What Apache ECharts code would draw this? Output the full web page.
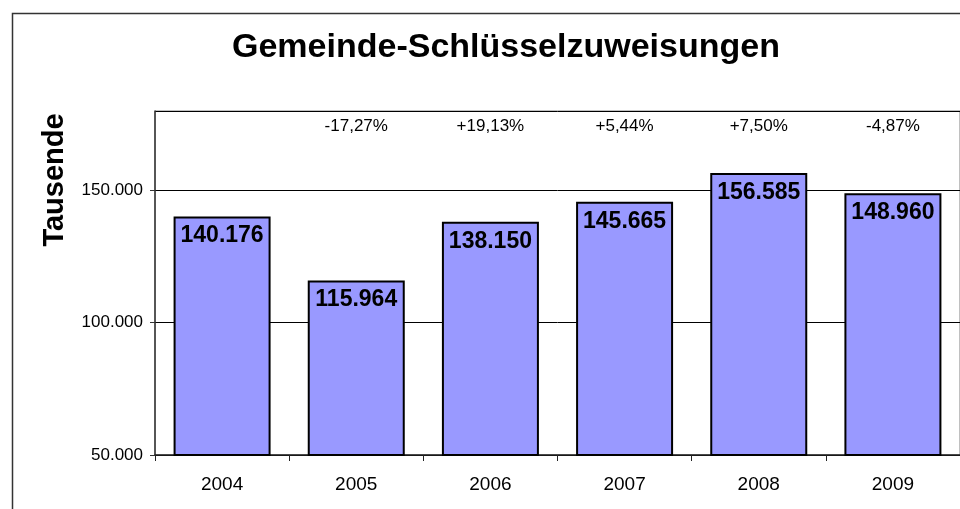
<!DOCTYPE html>
<html>
<head>
<meta charset="utf-8">
<title>Gemeinde-Schlüsselzuweisungen</title>
<script src="https://cdn.jsdelivr.net/npm/echarts@6/dist/echarts.min.js"></script>
<style>
  html, body { margin: 0; padding: 0; background: #fff; }
  #main { width: 960px; height: 509px; }
</style>
</head>
<body>
<div id="main"></div>
<script>
// Daten (Tausend Euro)
var years = ['2004', '2005', '2006', '2007', '2008', '2009']
var amounts = [140176, 115964, 138150, 145665, 156585, 148960]
// Veränderung zum Vorjahr
var changes = ['', '-17,27%', '+19,13%', '+5,44%', '+7,50%', '-4,87%']

var FONT = 'Liberation Sans, Arial, sans-serif'

// Tausenderpunkt wie im Original
function fmt(v) {
  return String(Math.round(v)).replace(/\B(?=(\d{3})+(?!\d))/g, '.')
}

var myChart = echarts.init(document.getElementById('main'))

var option = {
  backgroundColor: '#fff',
  animation: false,
  title: {
    text: 'Gemeinde-Schlüsselzuweisungen',
    left: 227,
    top: 26,
    textStyle: {
      fontFamily: FONT,
      fontSize: 34,
      fontWeight: 'bold',
      color: '#000'
    }
  },
  grid: {
    left: 155,
    top: 111,
    right: -7,
    bottom: 54,
    show: true,
    borderColor: '#808080',
    borderWidth: 1,
    containLabel: false
  },
  xAxis: [
    {
      type: 'category',
      data: years,
      position: 'bottom',
      axisLine: { lineStyle: { color: '#222', width: 1.5 } },
      axisTick: { show: true, alignWithLabel: false, length: 6, lineStyle: { color: '#222' } },
      axisLabel: { fontFamily: FONT, fontSize: 19, color: '#000', margin: 20 }
    },
    {
      // Prozentangaben oben im Diagramm
      type: 'category',
      data: changes,
      position: 'top',
      axisLine: { show: false },
      axisTick: { show: false },
      axisLabel: { inside: true, fontFamily: FONT, fontSize: 17, color: '#000', margin: 7 }
    }
  ],
  yAxis: {
    type: 'value',
    min: 50000,
    max: 180000,
    interval: 50000,
    axisLine: { show: true, lineStyle: { color: '#333', width: 1.5 } },
    axisTick: { show: true, length: 5, lineStyle: { color: '#333' } },
    axisLabel: {
      fontFamily: FONT,
      fontSize: 17,
      color: '#000',
      margin: 12,
      showMaxLabel: false,
      formatter: fmt
    },
    splitLine: { show: true, lineStyle: { color: '#000', width: 1 } }
  },
  series: [
    {
      type: 'bar',
      xAxisIndex: 0,
      data: amounts,
      barWidth: 97,
      itemStyle: { color: '#9999FF', borderColor: '#000', borderWidth: 2 },
      label: {
        show: true,
        position: 'insideTop',
        distance: 8,
        fontFamily: FONT,
        fontSize: 23,
        fontWeight: 'bold',
        color: '#000',
        formatter: function (p) { return fmt(p.value) }
      }
    }
  ],
  graphic: [
    {
      // äußerer Rahmen
      type: 'rect',
      shape: { x: 12.5, y: 13.5, width: 980, height: 520 },
      style: { fill: 'none', stroke: '#333', lineWidth: 1.5 },
      silent: true
    },
    {
      type: 'text',
      x: 55,
      y: 180,
      rotation: Math.PI / 2,
      style: {
        text: 'Tausende',
        font: 'bold 29px ' + FONT,
        fill: '#000',
        align: 'center',
        verticalAlign: 'middle'
      }
    }
  ]
}

myChart.setOption(option)
</script>
</body>
</html>
